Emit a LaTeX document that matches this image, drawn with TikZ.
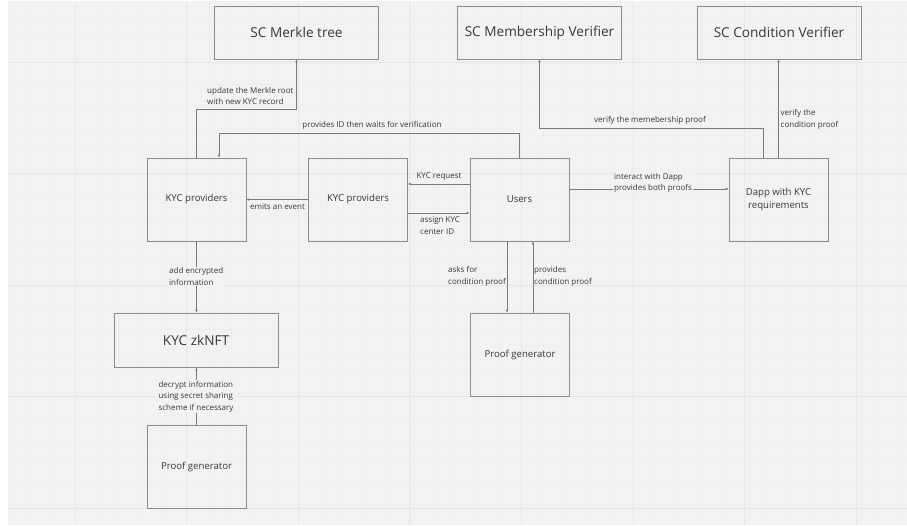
\documentclass[tikz,border=0pt]{standalone}
\usepackage{fontspec}
\setmainfont{Open Sans}
\usetikzlibrary{arrows.meta}
\definecolor{boardbg}{HTML}{F2F2F2}
\definecolor{gridminor}{HTML}{EEEEEE}
\definecolor{gridmajor}{HTML}{E6E6E6}
\definecolor{boxline}{HTML}{8C8C8C}
\definecolor{wiregray}{HTML}{7A7A7A}
\definecolor{inkgray}{HTML}{383838}
\begin{document}
\begin{tikzpicture}[x=1pt, y=-1pt,
    box/.style={draw=boxline, line width=0.7pt, text=inkgray, inner sep=0pt,
        minimum width=99pt, minimum height=83pt, align=center,
        font=\fontsize{9.6}{12.5}\selectfont},
    bigbox/.style={box, minimum width=164pt, minimum height=53pt,
        font=\fontsize{13.6}{16}\selectfont},
    arr/.style={draw=wiregray, line width=0.5pt, -{Latex[length=3pt, width=2.6pt]}},
    lbl/.style={text=inkgray, font=\fontsize{8}{11.5}\selectfont, inner sep=1pt, align=left}]
    \useasboundingbox (0,0) rectangle (907,525);
    \fill [white] (0,0) rectangle (907,525);
    \fill [boardbg] (8,1) rectangle (907,525);
    \begin{scope}
        \clip (8,1) rectangle (907,525);
        \foreach \gx in {0,...,40}
            \draw [gridminor, line width=0.5pt] ({8+22.32*\gx},1) -- ({8+22.32*\gx},525);
        \foreach \gy in {0,...,22}
            \draw [gridminor, line width=0.5pt] (8,{17.4+22.3*\gy}) -- (907,{17.4+22.3*\gy});
        \foreach \gx in {0,...,7}
            \draw [gridmajor, line width=0.7pt] ({75+111.6*\gx},1) -- ({75+111.6*\gx},525);
        \foreach \gy in {0,...,4}
            \draw [gridmajor, line width=0.7pt] (8,{62+111.5*\gy}) -- (907,{62+111.5*\gy});
    \end{scope}

    \node [bigbox] (merkle) at (296.5, 32.5) {SC Merkle tree};
    \node [bigbox] (member) at (539.5, 32.5) {SC Membership Verifier};
    \node [bigbox] (cond) at (779, 32.5) {SC Condition Verifier};
    \node [box] (kycl) at (196.5, 199.5) {KYC providers};
    \node [box] (kycm) at (358, 199.5) {KYC providers};
    \node [box] (users) at (519.5, 199.5) {Users};
    \node [box] (dapp) at (778.5, 199.5) {Dapp with KYC\\requirements};
    \node [bigbox, minimum height=54pt] (zknft) at (196, 340) {KYC zkNFT};
    \node [box] (pgl) at (196.5, 466.5) {Proof generator};
    \node [box] (pgm) at (520, 354.5) {Proof generator};

    \coordinate (mk) at (296.5, 109);
    \draw [arr] (kycl.north) |- (mk) -- (merkle.south);
    \node [lbl, anchor=south west] (mklbl) at (206, 106) {update the Merkle root\\with new KYC record};

    \coordinate (pid) at (219, 133);
    \draw [arr] (users.north) |- (pid) -- (pid |- kycl.north);
    \node [lbl, anchor=south] (pidlbl) at (372, 130.5) {provides ID then waits for verification};

    \draw [arr] (kycm.west) -- (kycl.east);
    \node [lbl, anchor=north] (evlbl) at (277.5, 202) {emits an event};

    \draw [arr] ([yshift=15.5pt]users.west) -- ([yshift=15.5pt]kycm.east);
    \node [lbl, anchor=south] (reqlbl) at (439, 182) {KYC request};

    \draw [arr] ([yshift=-13.5pt]kycm.east) -- ([yshift=-13.5pt]users.west);
    \node [lbl, anchor=north west] (asglbl) at (419, 215.5) {assign KYC\\center ID};

    \draw [arr] ([yshift=10.5pt]users.east) -- ([yshift=10.5pt]dapp.west);
    \node [lbl, fill=boardbg, anchor=west] (dplbl) at (613, 183) {interact with Dapp\\provides both proofs};

    \coordinate (vm) at (763, 128);
    \draw [arr] (vm |- dapp.north) -- (vm) -| (member.south);
    \node [lbl, anchor=south] (vmlbl) at (650, 126) {verify the memebership proof};

    \draw [arr] (dapp.north) -- (dapp.north |- cond.south);
    \node [lbl, anchor=west] (vclbl) at (779.5, 119.5) {verify the\\condition proof};

    \draw [arr] (kycl.south) -- (kycl.south |- zknft.north);
    \node [lbl, fill=boardbg, anchor=west] (enclbl) at (168, 276.5) {add encrypted\\information};

    \draw [arr] (pgl.north) -- (pgl.north |- zknft.south);
    \node [lbl, fill=boardbg] (declbl) at (196, 396.5) {decrypt information\\using secret sharing\\scheme if necessary};

    \draw [arr] ([xshift=-12.5pt]users.south) -- ([xshift=-12.5pt]users.south |- pgm.north);
    \node [lbl, anchor=west] (asklbl) at (447, 276.5) {asks for\\condition proof};

    \draw [arr] ([xshift=13pt]pgm.north) -- ([xshift=13pt]pgm.north |- users.south);
    \node [lbl, anchor=west] (prvlbl) at (533, 276.5) {provides\\condition proof};
\end{tikzpicture}
\end{document}
